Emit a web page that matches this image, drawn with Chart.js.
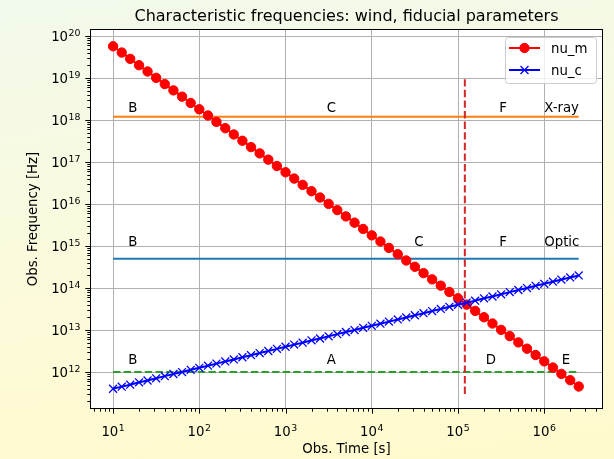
<!DOCTYPE html>
<html>
<head>
<meta charset="utf-8">
<script src="https://cdn.jsdelivr.net/npm/chart.js@4.4.1/dist/chart.umd.min.js"></script>
<style>
  html, body { margin: 0; padding: 0; }
  body {
    width: 614px; height: 459px; overflow: hidden;
    background: linear-gradient(172deg, #f1f9eb 0%, #fbfadc 50%, #fffacc 100%);
  }
  canvas { display: block; }
</style>
</head>
<body>
<canvas id="c" width="614" height="459"></canvas>
<script>
// observer times [s] and the two characteristic frequencies [Hz]
const timeS = [10, 12.6, 15.8, 20.0, 25.1, 31.6, 39.8, 50.1, 63.1, 79.4,
  100, 126, 158, 200, 251, 316, 398, 501, 631, 794,
  1000, 1260, 1580, 2000, 2510, 3160, 3980, 5010, 6310, 7940,
  1.0e4, 1.26e4, 1.58e4, 2.0e4, 2.51e4, 3.16e4, 3.98e4, 5.01e4, 6.31e4, 7.94e4,
  1.0e5, 1.26e5, 1.58e5, 2.0e5, 2.51e5, 3.16e5, 3.98e5, 5.01e5, 6.31e5, 7.94e5,
  1.0e6, 1.26e6, 1.58e6, 2.0e6, 2.51e6]
const nuM = [5.70e19, 4.04e19, 2.86e19, 2.02e19, 1.43e19, 1.01e19, 7.18e18, 5.08e18, 3.60e18, 2.55e18,
  1.80e18, 1.28e18, 9.04e17, 6.40e17, 4.53e17, 3.21e17, 2.27e17, 1.61e17, 1.14e17, 8.05e16,
  5.70e16, 4.04e16, 2.86e16, 2.02e16, 1.43e16, 1.01e16, 7.18e15, 5.08e15, 3.60e15, 2.55e15,
  1.80e15, 1.28e15, 9.04e14, 6.40e14, 4.53e14, 3.21e14, 2.27e14, 1.61e14, 1.14e14, 8.05e13,
  5.70e13, 4.04e13, 2.86e13, 2.02e13, 1.43e13, 1.01e13, 7.18e12, 5.08e12, 3.60e12, 2.55e12,
  1.80e12, 1.28e12, 9.04e11, 6.40e11, 4.53e11]
const nuC = [4.0e11, 4.5e11, 5.0e11, 5.7e11, 6.3e11, 7.1e11, 8.0e11, 9.0e11, 1.0e12, 1.13e12,
  1.26e12, 1.42e12, 1.59e12, 1.79e12, 2.0e12, 2.25e12, 2.52e12, 2.83e12, 3.18e12, 3.57e12,
  4.0e12, 4.5e12, 5.0e12, 5.7e12, 6.3e12, 7.1e12, 8.0e12, 9.0e12, 1.0e13, 1.13e13,
  1.26e13, 1.42e13, 1.59e13, 1.79e13, 2.0e13, 2.25e13, 2.52e13, 2.83e13, 3.18e13, 3.57e13,
  4.0e13, 4.5e13, 5.0e13, 5.7e13, 6.3e13, 7.1e13, 8.0e13, 9.0e13, 1.0e14, 1.13e14,
  1.26e14, 1.42e14, 1.59e14, 1.79e14, 2.0e14]

// observing bands and the break time
const bandT = [10, 2.51e6]
const xrayNu = 1.2e18
const opticNu = 5e14
const lowNu = 1e12
const breakT = 1.2e5
const breakNu = [3e11, 1e19]

// spectral regime letters
const regionText = ['B', 'C', 'F', 'X-ray', 'B', 'C', 'F', 'Optic', 'B', 'A', 'D', 'E']
const regionT = [15, 3e3, 3e5, 1e6, 15, 3.1e4, 3e5, 1e6, 15, 3e3, 2.1e5, 1.6e6]
const regionNu = [1.55e18, 1.55e18, 1.55e18, 1.55e18, 1e15, 1e15, 1e15, 1e15,
  1.55e12, 1.55e12, 1.55e12, 1.55e12]

// axis limits and decade ticks
const xMin = 5.4, xMax = 4.8e6
const yMin = 1.32e11, yMax = 1.47e20
const xTickExp = [1, 2, 3, 4, 5, 6]
const yTickExp = [12, 13, 14, 15, 16, 17, 18, 19, 20]

const FONT = '"DejaVu Sans", sans-serif'
const pts = (xs, ys) => xs.map((x, i) => ({ x, y: ys[i] }))
const hline = v => bandT.map(t => ({ x: t, y: v }))

function decadeTicks(scale, exps) {
  scale.ticks = exps.map(e => ({ value: Math.pow(10, e) }))
}

// draws "10" with a raised exponent
function powLabel(ctx, e, x, y, align) {
  ctx.font = '13.3px ' + FONT
  const wb = ctx.measureText('10').width
  ctx.font = '9.4px ' + FONT
  const we = ctx.measureText(String(e)).width
  const w = wb + we + 0.5
  let left = x
  if (align === 'center') left = x - w / 2
  if (align === 'right') left = x - w
  ctx.textAlign = 'left'
  ctx.textBaseline = 'alphabetic'
  ctx.font = '13.3px ' + FONT
  ctx.fillText('10', left, y)
  ctx.font = '9.4px ' + FONT
  ctx.fillText(String(e), left + wb + 0.5, y - 5.5)
}

const decor = {
  id: 'decor',
  beforeDraw(chart) {
    const { ctx, chartArea: a } = chart
    ctx.save()
    ctx.fillStyle = '#ffffff'
    ctx.fillRect(a.left, a.top, a.right - a.left, a.bottom - a.top)
    ctx.restore()
  },
  afterDraw(chart) {
    const { ctx, chartArea: a } = chart
    const xs = chart.scales.x, ys = chart.scales.y
    ctx.save()
    ctx.fillStyle = '#000'
    ctx.strokeStyle = '#000'
    ctx.lineWidth = 1

    // frame
    ctx.strokeRect(a.left + 0.5, a.top + 0.5, a.right - a.left - 1, a.bottom - a.top - 1)

    // tick marks
    ctx.beginPath()
    for (let e = 0; e <= 7; e++) {
      for (let m = 1; m <= 9; m++) {
        const v = m * Math.pow(10, e)
        if (v < xMin || v > xMax) continue
        const px = Math.round(xs.getPixelForValue(v)) + 0.5
        const len = m === 1 ? 4.7 : 2.7
        ctx.moveTo(px, a.bottom); ctx.lineTo(px, a.bottom + len)
      }
    }
    for (let e = 11; e <= 20; e++) {
      for (let m = 1; m <= 9; m++) {
        const v = m * Math.pow(10, e)
        if (v < yMin || v > yMax) continue
        const py = Math.round(ys.getPixelForValue(v)) + 0.5
        const len = m === 1 ? 4.7 : 2.7
        ctx.moveTo(a.left, py); ctx.lineTo(a.left - len, py)
      }
    }
    ctx.stroke()

    // tick labels
    xTickExp.forEach(e => powLabel(ctx, e, xs.getPixelForValue(Math.pow(10, e)), 436, 'center'))
    yTickExp.forEach(e => powLabel(ctx, e, 80.5, ys.getPixelForValue(Math.pow(10, e)) + 5, 'right'))

    // regime letters
    ctx.font = '13.3px ' + FONT
    ctx.textAlign = 'left'
    ctx.textBaseline = 'alphabetic'
    regionText.forEach((s, i) => {
      ctx.fillText(s, xs.getPixelForValue(regionT[i]), ys.getPixelForValue(regionNu[i]))
    })

    // title and axis labels
    const cx = (a.left + a.right) / 2
    ctx.textAlign = 'center'
    ctx.font = '16px ' + FONT
    ctx.fillText('Characteristic frequencies: wind, fiducial parameters', cx, 21)
    ctx.font = '13.3px ' + FONT
    ctx.fillText('Obs. Time [s]', cx, 453)
    ctx.save()
    ctx.translate(34, (a.top + a.bottom) / 2)
    ctx.rotate(-Math.PI / 2)
    ctx.textBaseline = 'middle'
    ctx.fillText('Obs. Frequency [Hz]', 0, 0)
    ctx.restore()

    // legend
    const lx = 505, ly = 37, lw = 91, lh = 46
    ctx.beginPath()
    ctx.roundRect(lx + 0.5, ly + 0.5, lw, lh, 3)
    ctx.fillStyle = 'rgba(255,255,255,0.8)'
    ctx.fill()
    ctx.strokeStyle = '#cccccc'
    ctx.stroke()

    const rows = [
      { y: 48, color: '#ff0000', label: 'nu_m', style: 'circle', r: 4.7 },
      { y: 70, color: '#0000ff', label: 'nu_c', style: 'crossRot', r: 5.6 },
    ]
    rows.forEach(row => {
      ctx.strokeStyle = row.color
      ctx.fillStyle = row.color
      ctx.lineWidth = 2
      ctx.beginPath()
      ctx.moveTo(509, row.y); ctx.lineTo(540, row.y)
      ctx.stroke()
      ctx.lineWidth = row.style === 'circle' ? 1 : 1.3
      Chart.helpers.drawPoint(ctx, { pointStyle: row.style, radius: row.r, rotation: 0, borderWidth: ctx.lineWidth }, 524.5, row.y)
      ctx.fillStyle = '#000'
      ctx.font = '13.3px ' + FONT
      ctx.textAlign = 'left'
      ctx.textBaseline = 'alphabetic'
      ctx.fillText(row.label, 551, row.y + 5)
    })
    ctx.restore()
  },
}

new Chart(document.getElementById('c'), {
  type: 'line',
  data: {
    datasets: [
      {
        label: 'nu_c', data: pts(timeS, nuC),
        borderColor: '#0000ff', backgroundColor: '#0000ff', borderWidth: 2,
        pointStyle: 'crossRot', pointRadius: 5.6, pointBorderWidth: 1.3,
        pointBorderColor: '#0000ff',
      },
      {
        label: 'nu_m', data: pts(timeS, nuM),
        borderColor: '#ff0000', backgroundColor: '#ff0000', borderWidth: 2,
        pointStyle: 'circle', pointRadius: 4.7, pointBorderWidth: 1,
      },
      {
        label: 'break', data: breakNu.map(v => ({ x: breakT, y: v })),
        borderColor: '#d62728', borderWidth: 2, borderDash: [7.4, 3.2], pointRadius: 0,
      },
      {
        label: 'xray', data: hline(xrayNu),
        borderColor: '#ff7f0e', borderWidth: 2, pointRadius: 0,
      },
      {
        label: 'optic', data: hline(opticNu),
        borderColor: '#1f77b4', borderWidth: 2, pointRadius: 0,
      },
      {
        label: 'low', data: hline(lowNu),
        borderColor: '#2ca02c', borderWidth: 2, borderDash: [7.4, 3.2], pointRadius: 0,
      },
    ],
  },
  options: {
    responsive: false,
    animation: false,
    devicePixelRatio: 1,
    layout: { padding: { top: 29, right: 11, left: 0, bottom: 0 } },
    plugins: { legend: { display: false }, tooltip: { enabled: false } },
    elements: { line: { tension: 0 } },
    scales: {
      x: {
        type: 'logarithmic', min: xMin, max: xMax,
        afterBuildTicks: s => decadeTicks(s, xTickExp),
        afterFit: s => { s.height = 50 },
        ticks: { display: false },
        grid: { color: '#b0b0b0', lineWidth: 1, drawTicks: false },
        border: { display: false },
      },
      y: {
        type: 'logarithmic', min: yMin, max: yMax,
        afterBuildTicks: s => decadeTicks(s, yTickExp),
        afterFit: s => { s.width = 90 },
        ticks: { display: false },
        grid: { color: '#b0b0b0', lineWidth: 1, drawTicks: false },
        border: { display: false },
      },
    },
  },
  plugins: [decor],
})
</script>
</body>
</html>
